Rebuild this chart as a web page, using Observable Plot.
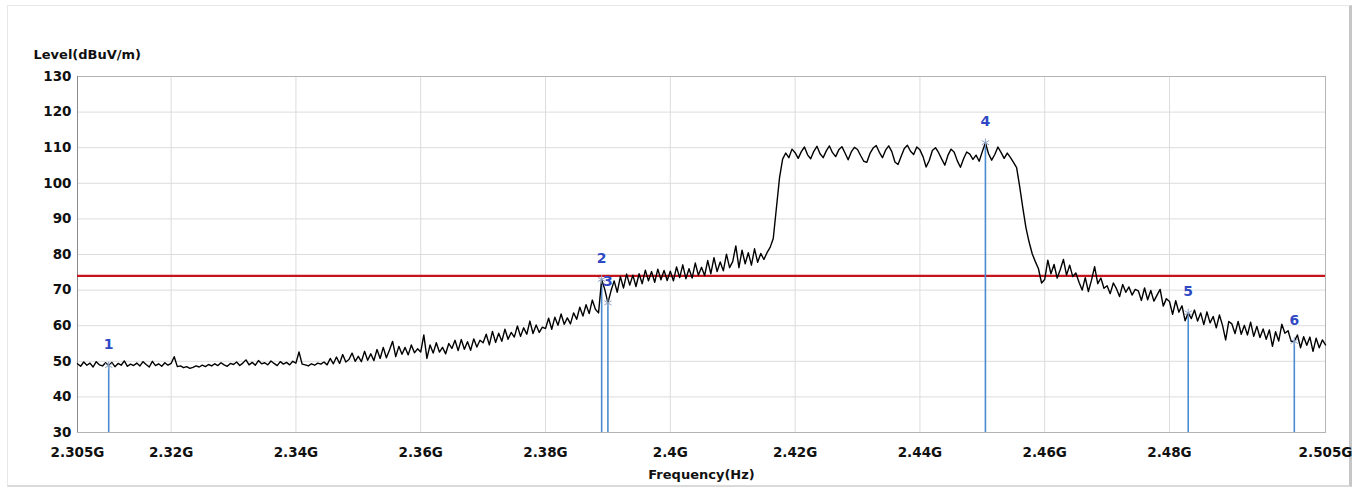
<!DOCTYPE html>
<html>
<head>
<meta charset="utf-8">
<script src="https://cdn.jsdelivr.net/npm/d3@7"></script>
<script src="https://cdn.jsdelivr.net/npm/@observablehq/plot@0.6"></script>
<style>
  html, body { margin: 0; padding: 0; background: #fff; }
  #wrap { position: relative; width: 1363px; height: 490px; overflow: hidden; }
  #panel { position: absolute; left: 7px; top: 5px; width: 1341px; height: 479px;
           border-top: 1px solid #e8e8e8; border-left: 1px solid #e8e8e8;
           border-right: 3px solid #c6c6c6; border-bottom: 2px solid #dadada; }
  #chart { position: absolute; left: 0; top: 0; }
</style>
</head>
<body>
<div id="wrap"><div id="panel"></div><div id="chart"></div></div>
<script>
// ---- data ----
const yLabel = "Level(dBuV/m)";
const xLabel = "Frequency(Hz)";
const xTicks = [2.305, 2.32, 2.34, 2.36, 2.38, 2.4, 2.42, 2.44, 2.46, 2.48, 2.505];
const xTickLabels = ["2.305G", "2.32G", "2.34G", "2.36G", "2.38G", "2.4G", "2.42G", "2.44G", "2.46G", "2.48G", "2.505G"];
const yTicks = [30, 40, 50, 60, 70, 80, 90, 100, 110, 120, 130];
const limitLevel = 74;

// trace sampled every 0.5 MHz from 2.305 GHz
const freqStart = 2.305;
const freqStep = 0.0005;
const levels = [
  49.3,48.6,49.8,48.9,49.5,48.4,49.9,49.0,48.7,49.6,
  48.8,49.7,48.5,49.4,48.9,50.1,48.6,49.2,48.8,49.5,
  48.7,49.9,49.1,48.4,50.0,48.8,49.3,48.6,49.6,48.9,
  49.4,51.3,48.5,48.7,48.2,48.5,48.0,48.3,48.7,48.4,
  48.9,48.5,49.1,48.7,49.3,48.8,49.6,49.0,48.6,49.4,
  49.1,49.8,48.8,49.5,50.4,49.0,49.7,48.9,50.2,49.3,
  49.6,49.0,50.1,49.4,48.8,49.9,49.2,49.7,49.0,50.0,
  49.5,52.6,49.2,49.0,48.7,49.3,48.9,49.5,49.2,49.8,
  49.0,50.8,49.3,51.2,49.4,51.9,49.8,50.5,52.3,50.0,
  51.4,49.9,52.8,50.3,52.1,50.2,53.3,50.8,53.9,51.0,
  53.2,55.6,51.3,54.2,52.0,53.9,51.8,54.6,52.4,53.5,
  52.6,57.4,50.8,54.6,52.3,55.2,52.6,53.9,52.1,55.0,
  53.6,55.9,53.0,56.1,53.4,55.5,53.1,56.3,54.0,55.9,
  55.2,57.6,54.6,58.4,55.3,57.9,55.6,59.0,56.2,58.1,
  56.8,59.9,57.0,59.4,57.6,61.3,57.8,60.2,58.1,59.6,
  59.2,62.1,59.0,62.4,60.1,63.3,60.4,62.2,60.5,63.6,
  61.8,65.2,62.7,65.9,63.4,67.2,64.6,63.6,73.0,70.2,
  66.4,69.8,72.6,69.4,73.8,70.6,74.5,71.4,74.2,71.0,
  74.6,71.8,75.6,72.6,75.2,72.2,75.9,72.9,75.5,72.7,
  75.3,72.6,76.5,73.5,77.1,73.2,76.0,73.4,77.6,74.2,
  76.4,74.1,78.3,74.6,79.1,75.2,77.9,75.4,80.1,76.3,
  78.0,82.4,76.3,81.2,77.4,80.5,77.0,81.6,77.8,80.3,
  78.6,80.5,82.0,84.5,93.0,101.5,106.8,108.5,107.2,109.6,
  108.6,107.0,108.9,110.2,108.0,106.9,109.0,110.4,108.3,107.2,
  109.1,110.5,108.6,107.5,109.4,110.3,108.5,106.6,108.8,110.1,
  109.5,107.8,106.2,105.9,108.4,109.9,110.6,108.7,107.2,109.3,
  110.5,108.9,106.0,105.3,107.6,109.8,110.7,109.0,108.1,110.2,
  109.4,107.5,104.6,106.4,109.2,110.0,108.6,106.8,105.1,107.9,
  109.6,108.7,106.3,104.5,106.9,108.8,108.2,106.7,107.9,106.2,
  108.9,111.4,108.3,106.5,108.1,110.2,108.7,107.0,108.5,107.3,
  105.9,104.4,99.0,93.0,87.5,83.5,80.2,78.0,76.0,72.0,
  73.0,78.4,74.6,77.2,73.4,75.8,78.6,74.2,77.0,73.8,
  74.8,72.2,70.0,73.5,69.6,72.8,76.6,71.8,73.4,70.5,
  71.2,69.0,72.0,70.4,68.2,71.6,69.4,70.9,68.6,70.2,
  69.8,67.1,70.6,67.3,69.9,66.9,68.6,70.2,65.5,67.6,
  66.8,63.2,67.0,63.8,65.6,61.4,63.6,62.0,64.4,61.3,
  63.6,60.3,63.9,60.8,62.6,59.4,63.0,60.1,56.0,61.2,
  60.5,57.8,61.2,57.6,60.1,57.4,61.0,57.0,59.8,56.7,
  59.1,56.2,58.8,54.2,58.3,55.7,60.4,57.9,58.6,55.6,
  55.6,57.4,53.8,56.9,54.5,56.8,52.8,56.5,53.8,56.0,
  54.6
];

// markers
const markerIds = ["1", "2", "3", "4", "5", "6"];
const markerFreqs = [2.31, 2.389, 2.39, 2.4505, 2.483, 2.5];
const markerLevels = [48.8, 73.0, 66.4, 111.4, 63.6, 55.6];

// ---- build tables ----
const trace = levels.map((v, i) => ({f: +(freqStart + i * freqStep).toFixed(4), v}));
const markers = markerIds.map((id, i) => ({id, f: markerFreqs[i], v: markerLevels[i]}));
const tickLabel = new Map(xTicks.map((t, i) => [t, xTickLabels[i]]));

const chart = Plot.plot({
  width: 1363,
  height: 490,
  marginLeft: 77,
  marginRight: 38,
  marginTop: 76,
  marginBottom: 58,
  style: {fontFamily: "'DejaVu Sans', sans-serif", fontSize: "13.5px", fontWeight: "bold", color: "#111", background: "transparent", overflow: "visible"},
  x: {domain: [2.305, 2.505], ticks: xTicks, tickFormat: d => tickLabel.get(d), tickSize: 0, tickPadding: 15, label: null},
  y: {domain: [30, 130], ticks: yTicks, tickSize: 0, tickPadding: 6, label: null},
  marks: [
    Plot.gridY(yTicks, {stroke: "#dcdcdc", strokeOpacity: 1}),
    Plot.gridX(xTicks, {stroke: "#dcdcdc", strokeOpacity: 1}),
    Plot.frame({stroke: "#b4b4b4"}),
    Plot.ruleX([2.305], {stroke: "#8a8a8a"}),
    Plot.ruleY([limitLevel], {stroke: "#c4141c", strokeWidth: 2.2}),
    Plot.ruleX(markers, {x: "f", y1: "v", y2: 30, stroke: "#4a8ad0", strokeWidth: 1.6}),
    Plot.line(trace, {x: "f", y: "v", stroke: "#000", strokeWidth: 1.4}),
    Plot.dot(markers, {x: "f", y: "v", symbol: "asterisk", r: 4, stroke: "#8fa3c4", strokeWidth: 1}),
    Plot.text(markers, {x: "f", y: "v", text: "id", dy: -21, fill: "#2f49c4", fontSize: 14, fontWeight: "bold"}),
    Plot.text([yLabel], {frameAnchor: "top-left", dx: -44, dy: -27, textAnchor: "start", fontSize: 13, fontWeight: "bold", fill: "#111"}),
    Plot.text([xLabel], {frameAnchor: "bottom", dy: 46, fontSize: 13, fontWeight: "bold", fill: "#111"})
  ]
});
document.getElementById("chart").appendChild(chart);
</script>
</body>
</html>
